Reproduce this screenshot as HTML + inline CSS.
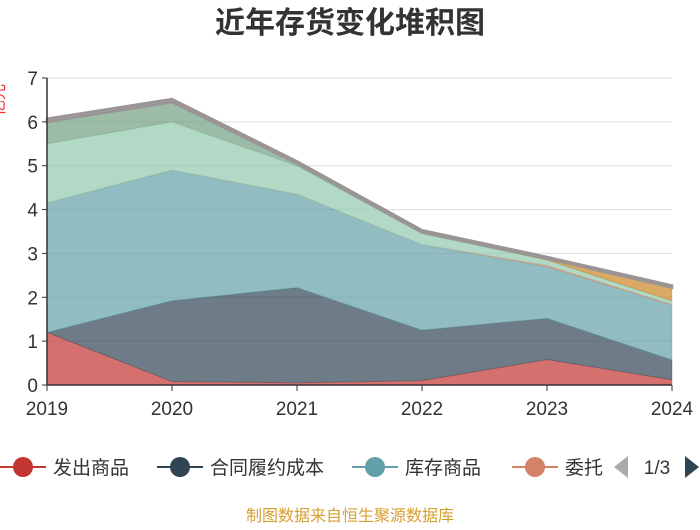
<!DOCTYPE html>
<html><head><meta charset="utf-8"><style>
body{margin:0;background:#fff;width:700px;height:525px;overflow:hidden;font-family:"Liberation Sans","Noto Sans CJK SC",sans-serif}
</style></head><body>
<svg id="c" width="700" height="525" xmlns="http://www.w3.org/2000/svg">
<text x="350" y="33" text-anchor="middle" font-size="30" font-weight="bold" fill="#333">近年存货变化堆积图</text>
<text transform="translate(4,100) rotate(-90)" text-anchor="middle" font-size="16" fill="#e33">亿元</text>
<g id="grid"></g><g id="areas"></g><g id="axes"></g>
<g id="legend"></g>
<text x="350" y="521" text-anchor="middle" font-size="16" fill="#d4a030">制图数据来自恒生聚源数据库</text>
</svg>
<script>
const years=['2019','2020','2021','2022','2023','2024'];
const yTicks=[0,1,2,3,4,5,6,7];
const sRed=[1.2,0.08,0.05,0.1,0.58,0.12];
const sDark=[0.0,1.84,2.17,1.15,0.94,0.45];
const sTeal=[2.95,2.98,2.13,1.95,1.18,1.25];
const sSalmon=[0,0,0,0,0.03,0.02];
const sLightGreen=[1.35,1.1,0.65,0.25,0.12,0.08];
const sDarkGreen=[0.5,0.45,0.05,0.03,0,0];
const sOrange=[0,0,0,0,0.03,0.3];
const sGray=[0.07,0.07,0.05,0.05,0.04,0.05];
const series=[
 {n:'发出商品',d:sRed,c:'#c23531',k:'red'},
 {n:'合同履约成本',d:sDark,c:'#2f4554',k:'dark'},
 {n:'库存商品',d:sTeal,c:'#61a0a8',k:'teal'},
 {n:'委托加工物资',d:sSalmon,c:'#d48265',k:'salmon'},
 {n:'原材料',d:sLightGreen,c:'#91c7ae',k:'lightgreen'},
 {n:'在产品',d:sDarkGreen,c:'#749f83',k:'darkgreen'},
 {n:'周转材料',d:sOrange,c:'#ca8622',k:'orange'},
 {n:'其他',d:sGray,c:'#9a9495',k:'gray'}];
const X0=47,X1=672,Y0=385,Y1=78,YMAX=7;
const x=i=>X0+(X1-X0)*i/(years.length-1);
const y=v=>Y0-(Y0-Y1)*v/YMAX;
const NS='http://www.w3.org/2000/svg';
function mk(t,a,p){const e=document.createElementNS(NS,t);for(const k in a)e.setAttribute(k,a[k]);p.appendChild(e);return e;}
const grid=document.getElementById('grid'),axes=document.getElementById('axes'),areas=document.getElementById('areas');
yTicks.forEach(t=>{
 const g=mk('line',{x1:X0,x2:X1,y1:y(t),y2:y(t),stroke:'#ddd'},grid);
 
 
 const tk=mk('line',{x1:X0-5,x2:X0,y1:y(t),y2:y(t),stroke:'#333'},axes);
 
 
 const l=mk('text',{x:X0-9,y:y(t)+7,'text-anchor':'end','font-size':19,fill:'#333'},axes);
 l.textContent=t;
 
 
});
let base=years.map(()=>0);
series.forEach(s=>{
 const top=base.map((b,i)=>b+s.d[i]);
 let p='M'+years.map((_,i)=>x(i)+','+y(top[i])).join('L');
 for(let i=years.length-1;i>=0;i--)p+='L'+x(i)+','+y(base[i]);
 const a=mk('path',{d:p+'Z',fill:s.c,'fill-opacity':s.k==='gray'?0.9:0.7,stroke:s.c,'stroke-width':s.k==='gray'?2.5:1,'stroke-opacity':s.k==='gray'?1:0.3},areas);
 
 
 base=top;
});
const ax=mk('line',{x1:X0,x2:X0,y1:Y1,y2:Y0,stroke:'#333','stroke-width':1.5},axes);


const xa=mk('line',{x1:X0,x2:X1,y1:Y0,y2:Y0,stroke:'#333','stroke-width':1.5},axes);


years.forEach((yr,i)=>{
 const tk=mk('line',{x1:x(i),x2:x(i),y1:Y0,y2:Y0+6,stroke:'#333'},axes);
 
 
 const l=mk('text',{x:x(i),y:Y0+30,'text-anchor':'middle','font-size':19,fill:'#333'},axes);
 l.textContent=yr;
 
 
});
const lg=document.getElementById('legend');
const lx=[0,157,352,512],ln=['发出商品','合同履约成本','库存商品','委托'];
ln.forEach((n,i)=>{
 const g=mk('g',{},lg);
 
 
 mk('line',{x1:lx[i],x2:lx[i]+46,y1:467,y2:467,stroke:series[i].c,'stroke-width':2},g);
 mk('circle',{cx:lx[i]+23,cy:467,r:10,fill:series[i].c},g);
 const t=mk('text',{x:lx[i]+53,y:474,'font-size':19,fill:'#333'},g);
 t.textContent=n;
});
const pv=mk('path',{d:'M628,456L614,467L628,478Z',fill:'#aaa'},lg);


const pt=mk('text',{x:657,y:474,'text-anchor':'middle','font-size':19,fill:'#333'},lg);
pt.textContent='1/3';


const nx=mk('path',{d:'M685,456L699,467L685,478Z',fill:'#2f4554'},lg);


</script>
</body></html>
